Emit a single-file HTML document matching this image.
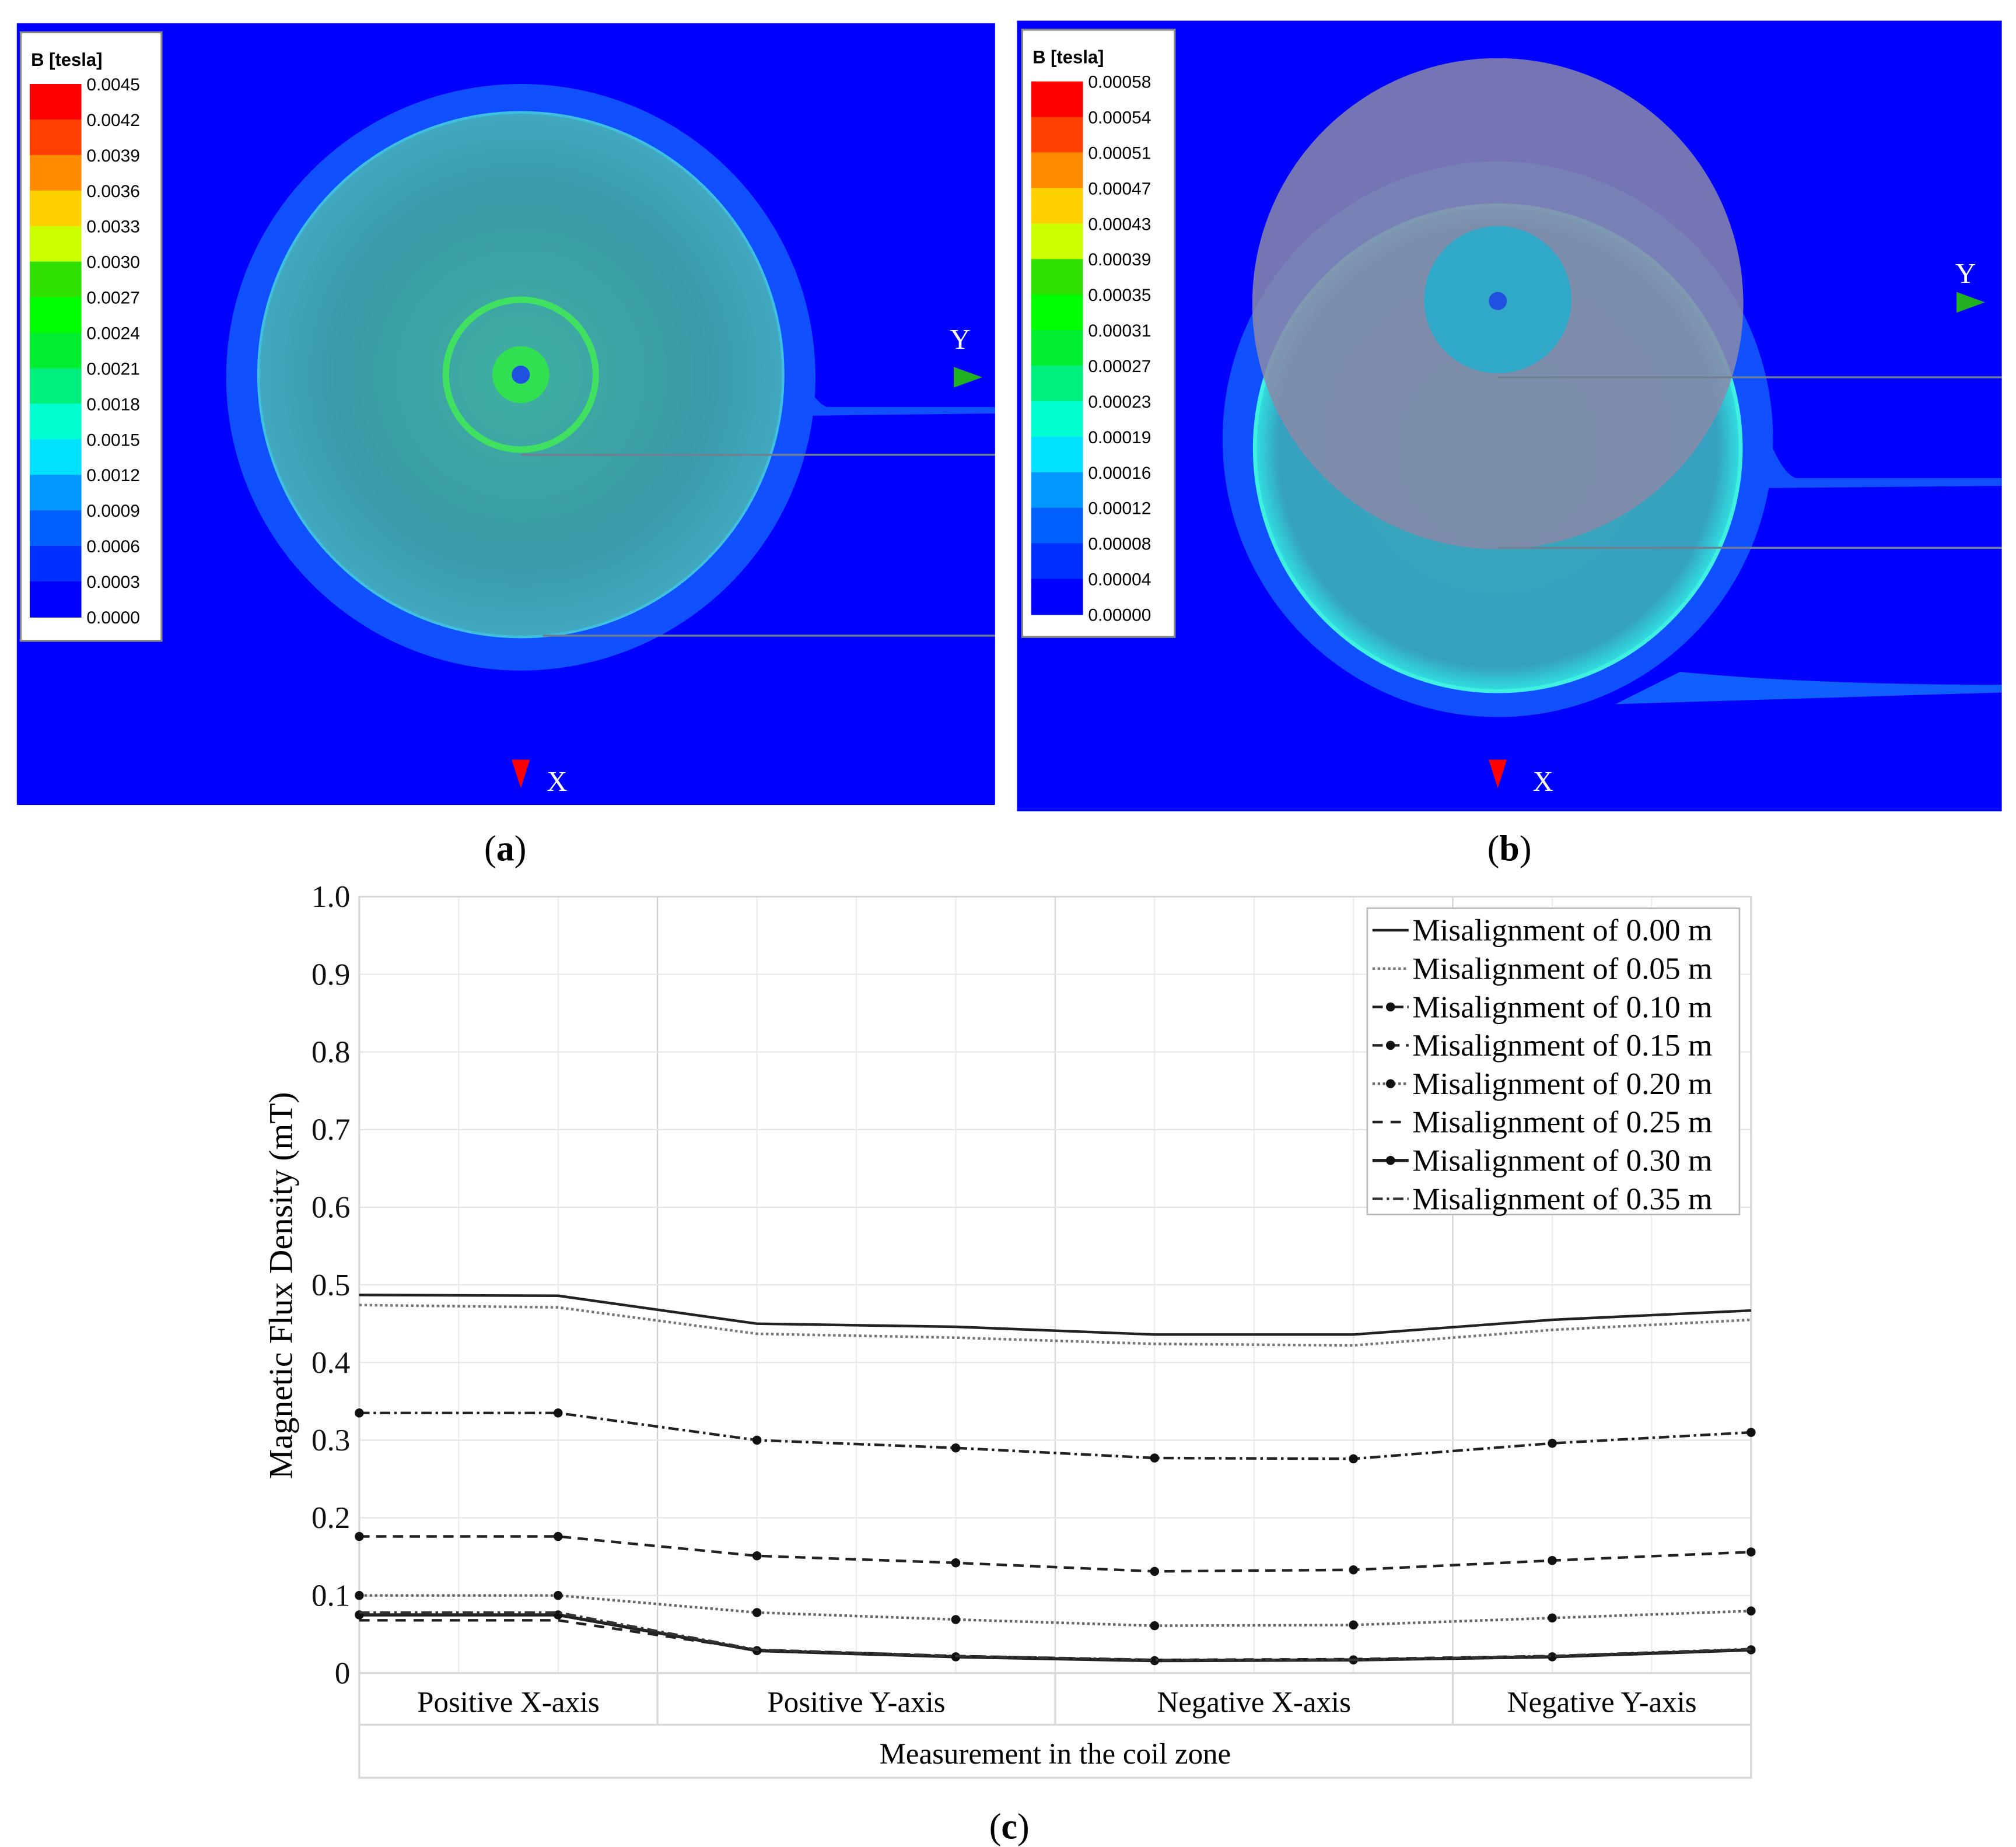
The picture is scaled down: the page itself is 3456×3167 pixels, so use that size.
<!DOCTYPE html>
<html><head><meta charset="utf-8"><style>
html,body{margin:0;padding:0;background:#fff}
svg{display:block}
</style></head><body>
<svg id="root" width="3456" height="3167" viewBox="0 0 1560 1429.6" preserveAspectRatio="none" xmlns="http://www.w3.org/2000/svg">
<defs>
<radialGradient id="coilA" cx="50%" cy="50%" r="50%">
<stop offset="0" stop-color="#3fb0a0"/><stop offset="0.7" stop-color="#3a9aa8"/><stop offset="1" stop-color="#40a8c0"/>
</radialGradient>
<radialGradient id="coilB" cx="50%" cy="50%" r="50%">
<stop offset="0" stop-color="#3aa8b8"/><stop offset="0.9" stop-color="#35a0c0"/><stop offset="1" stop-color="#30e0e0"/>
</radialGradient>
</defs>

<g>
<rect x="13" y="18" width="757" height="605" fill="#0000ff"/>
<ellipse cx="403" cy="292" rx="228" ry="227" fill="#1050ff"/>
<path d="M600 250 Q625 310 640 315 L770 315 L770 320 L610 322 Z" fill="#1050ff"/>
<circle cx="403" cy="290" r="203" fill="url(#coilA)"/>
<circle cx="403" cy="290" r="203" fill="none" stroke="#40c0e0" stroke-width="2"/>
<circle cx="403" cy="290" r="58" fill="none" stroke="#40e060" stroke-width="5"/>
<circle cx="403" cy="290" r="22" fill="#30e050"/>
<circle cx="403" cy="290" r="7" fill="#2050e0"/>
<line x1="403" y1="352" x2="770" y2="352" stroke="#708090" stroke-width="1.5"/>
<line x1="420" y1="492" x2="770" y2="492" stroke="#708090" stroke-width="1.5"/>
<text x="743" y="270" font-family="Liberation Serif, serif" font-size="22" fill="#fff" text-anchor="middle">Y</text>
<polygon points="738,284 760,292 738,300" fill="#20b020"/>
<polygon points="396,588 410,588 403,610" fill="#ff0000"/>
<text x="431" y="612" font-family="Liberation Serif, serif" font-size="22" fill="#fff" text-anchor="middle">X</text>
<g id="legA"></g>
<text x="391" y="666" font-family="Liberation Serif, serif" font-size="28" text-anchor="middle">(<tspan font-weight="bold">a</tspan>)</text>
</g>

<g>
<rect x="787" y="16" width="762" height="612" fill="#0000ff"/>
<ellipse cx="1159" cy="340" rx="213" ry="215" fill="#1050ff"/>
<path d="M1345 260 Q1370 365 1390 370 L1549 370 L1549 376 L1350 378 Z" fill="#1050ff"/>
<path d="M1300 520 Q1400 530 1549 530 L1549 536 L1250 545 Z" fill="#1060ff"/>
<circle cx="1159" cy="347" r="188" fill="url(#coilB)"/>
<circle cx="1159" cy="347" r="188" fill="none" stroke="#40f0e0" stroke-width="3"/>
<circle cx="1159" cy="235" r="190" fill="#8a8aa8" opacity="0.85"/>
<circle cx="1159" cy="232" r="57" fill="#30a8c8"/>
<circle cx="1159" cy="233" r="7" fill="#2050e0"/>
<line x1="1159" y1="292" x2="1549" y2="292" stroke="#708090" stroke-width="1.5"/>
<line x1="1159" y1="424" x2="1549" y2="424" stroke="#708090" stroke-width="1.5"/>
<text x="1521" y="219" font-family="Liberation Serif, serif" font-size="22" fill="#fff" text-anchor="middle">Y</text>
<polygon points="1514,226 1536,234 1514,242" fill="#20b020"/>
<polygon points="1152,588 1166,588 1159,610" fill="#ff0000"/>
<text x="1194" y="612" font-family="Liberation Serif, serif" font-size="22" fill="#fff" text-anchor="middle">X</text>
<g id="legB"></g>
<text x="1168" y="666" font-family="Liberation Serif, serif" font-size="28" text-anchor="middle">(<tspan font-weight="bold">b</tspan>)</text>
</g>

<g id="chart"></g>
<text x="781" y="1423" font-family="Liberation Serif, serif" font-size="28" text-anchor="middle">(<tspan font-weight="bold">c</tspan>)</text>
</svg>
<script>
const binColors = ["#ff0000","#ff4000","#ff8c00","#ffd000","#ccff00","#30e000","#00ff00","#00ee30","#00f080","#00ffd0","#00e0ff","#0098ff","#0060ff","#0030ff","#0000ff"];
const labelsA = ["0.0045","0.0042","0.0039","0.0036","0.0033","0.0030","0.0027","0.0024","0.0021","0.0018","0.0015","0.0012","0.0009","0.0006","0.0003","0.0000"];
const labelsB = ["0.00058","0.00054","0.00051","0.00047","0.00043","0.00039","0.00035","0.00031","0.00027","0.00023","0.00019","0.00016","0.00012","0.00008","0.00004","0.00000"];

const categories = ["Positive X-axis","Positive Y-axis","Negative X-axis","Negative Y-axis"];
const categoryBounds = [0,3,7,11,14];
const yTicks = ["0","0.1","0.2","0.3","0.4","0.5","0.6","0.7","0.8","0.9","1.0"];
const seriesNames = ["Misalignment of 0.00 m","Misalignment of 0.05 m","Misalignment of 0.10 m","Misalignment of 0.15 m","Misalignment of 0.20 m","Misalignment of 0.25 m","Misalignment of 0.30 m","Misalignment of 0.35 m"];
const s000 = [0.487,0.486,0.450,0.446,0.436,0.436,0.455,0.467];
const s005 = [0.474,0.471,0.437,0.432,0.424,0.422,0.442,0.455];
const s010 = [0.335,0.335,0.300,0.290,0.277,0.276,0.296,0.310];
const s015 = [0.176,0.176,0.151,0.142,0.131,0.133,0.145,0.156];
const s020 = [0.100,0.100,0.078,0.069,0.061,0.062,0.071,0.080];
const s025 = [0.068,0.068,0.030,0.022,0.017,0.018,0.022,0.030];
const s030 = [0.075,0.075,0.029,0.021,0.016,0.017,0.021,0.030];
const s035 = [0.078,0.078,0.030,0.022,0.017,0.017,0.022,0.031];

const NS="http://www.w3.org/2000/svg";
function mk(tag,attrs,parent){const e=document.createElementNS(NS,tag);for(const k in attrs)e.setAttribute(k,attrs[k]);parent.appendChild(e);return e;}

function colorbar(g,x,y,w,h,labels,sw){
  const box=mk('rect',{x:x,y:y,width:w,height:h,fill:'#fff',stroke:'#888','stroke-width':1.5},g);
  
  
  const t=mk('text',{x:x+8,y:y+26,'font-family':'Liberation Sans, sans-serif','font-size':14,'font-weight':'bold'},g);
  t.textContent='B [tesla]';
  const top=y+40, step=27.5;
  binColors.forEach((c,i)=>{
    const r=mk('rect',{x:x+7,y:top+i*step,width:40,height:step+0.5,fill:c},g);
    
    
  });
  labels.forEach((l,i)=>{
    const tt=mk('text',{x:x+51,y:top+i*step+5,'font-family':'Liberation Sans, sans-serif','font-size':sw},g);
    tt.textContent=l;
    
    
  });
}
colorbar(document.getElementById('legA'),16,25,109,471,labelsA,13.5);
colorbar(document.getElementById('legB'),791,23,118,470,labelsB,13.5);

const g=document.getElementById('chart');
const X0=278,X1=1355,Y0=1295,Y1=694;
const npts=8;
function xs(i){return X0+(X1-X0)*i/(npts-1);}
function xk(k){return X0+(X1-X0)*k/14;}
function ys(v){return Y0-(Y0-Y1)*v/1.0;}
const F='Liberation Serif, serif';
for(let k=1;k<14;k++){
  const x=xk(k);
  const major=(k===3||k===7||k===11);
  const l=mk('line',{x1:x,y1:Y1,x2:x,y2:Y0,stroke:major?'#d0d0d0':'#ececec','stroke-width':1},g);
  
  
}
yTicks.forEach((t,i)=>{
  const v=i/10,y=ys(v);
  const l=mk('line',{x1:X0,y1:y,x2:X1,y2:y,stroke:'#e6e6e6','stroke-width':1},g);
  
  
  const tx=mk('text',{x:271,y:y+8,'font-family':F,'font-size':24,'text-anchor':'end',fill:'#111'},g);
  tx.textContent=t;
  
  
});
const frame=mk('rect',{x:X0,y:Y1,width:X1-X0,height:Y0-Y1,fill:'none',stroke:'#d8d8d8','stroke-width':1.5},g);


const tb=mk('rect',{x:X0,y:Y0,width:X1-X0,height:81,fill:'none',stroke:'#d8d8d8','stroke-width':1.5},g);


mk('line',{x1:X0,y1:Y0+40,x2:X1,y2:Y0+40,stroke:'#d8d8d8','stroke-width':1.5},g);
categories.forEach((c,i)=>{
  const a=xk(categoryBounds[i]),b=xk(categoryBounds[i+1]);
  if(i>0) mk('line',{x1:a,y1:Y0,x2:a,y2:Y0+40,stroke:'#d8d8d8','stroke-width':1.5},g);
  const t=mk('text',{x:(a+b)/2,y:Y0+30,'font-family':F,'font-size':23,'text-anchor':'middle'},g);
  t.textContent=c;
  
  
});
const xt=mk('text',{x:(X0+X1)/2,y:Y0+70,'font-family':F,'font-size':23,'text-anchor':'middle'},g);
xt.textContent='Measurement in the coil zone';


const yt=mk('text',{x:0,y:0,'font-family':F,'font-size':26,'text-anchor':'middle',transform:'translate(226,995) rotate(-90)'},g);
yt.textContent='Magnetic Flux Density (mT)';



const allSeries=[s000,s005,s010,s015,s020,s025,s030,s035];
const styles=[
 {dash:'',w:2,c:'#222',m:false},
 {dash:'2,2',w:2,c:'#777',m:false},
 {dash:'8,3,2,3',w:2,c:'#222',m:true},
 {dash:'8,5',w:2,c:'#222',m:true},
 {dash:'2,2',w:2,c:'#666',m:true},
 {dash:'8,6',w:2,c:'#222',m:false},
 {dash:'',w:2.5,c:'#222',m:true},
 {dash:'8,3,2,3',w:2,c:'#333',m:false}
];
allSeries.forEach((s,si)=>{
  const st=styles[si];
  const p=mk('polyline',{points:s.map((v,i)=>xs(i)+','+ys(v)).join(' '),fill:'none',stroke:st.c,'stroke-width':st.w,'stroke-dasharray':st.dash},g);
  
  
  if(st.m) s.forEach((v,i)=>{
    const c=mk('circle',{cx:xs(i),cy:ys(v),r:3.5,fill:'#111'},g);
    
    
  });
});
const lg=mk('g',{},g);


mk('rect',{x:1058,y:703,width:288,height:237,fill:'#fff',stroke:'#bbb','stroke-width':1.2},lg);
seriesNames.forEach((n,i)=>{
  const y=720+29.7*i, st=styles[i];
  const l=mk('line',{x1:1062,y1:y,x2:1090,y2:y,stroke:st.c,'stroke-width':st.w,'stroke-dasharray':st.dash},lg);
  
  
  if(st.m) mk('circle',{cx:1076,cy:y,r:3.5,fill:'#111'},lg);
  const t=mk('text',{x:1093,y:y+8,'font-family':F,'font-size':24},lg);
  t.textContent=n;
  
  
});
</script>
</body></html>
